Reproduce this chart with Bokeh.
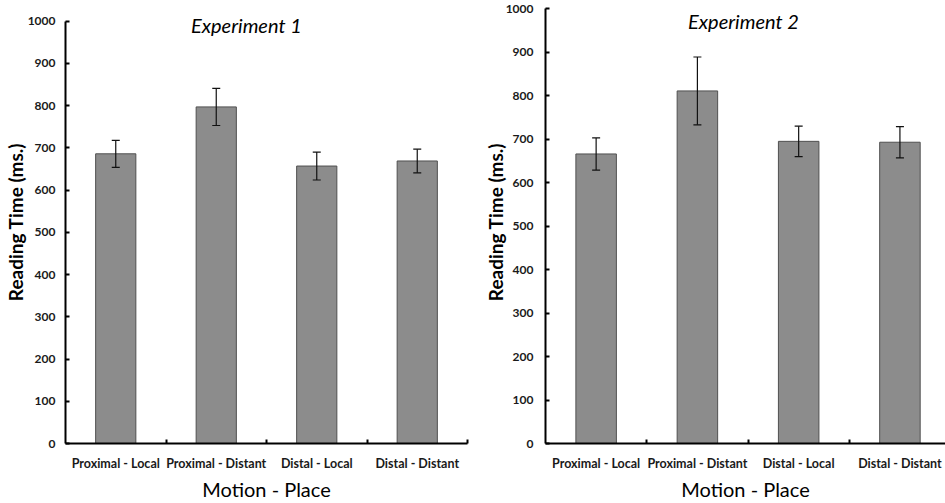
from bokeh.plotting import figure
from bokeh.models import (ColumnDataSource, Range1d, FixedTicker, Whisker,
                          TeeHead, Label)
from bokeh.layouts import row
from bokeh.embed import file_html
from bokeh.resources import INLINE

# Conditions (Motion - Place)
categories = ["Proximal - Local", "Proximal - Distant", "Distal - Local", "Distal - Distant"]

# Mean reading times (ms) and error-bar half widths
exp1_means = [686, 797, 657, 669]
exp1_err = [32, 44, 33, 28]
exp2_means = [666, 811, 695, 693]
exp2_err = [37, 78, 35, 36]

y_ticks = list(range(0, 1001, 100))

FONT = "Lato"
TXT = "#1a1a1a"


def panel(title, means, errs, width, border_left, y_end, x_end, title_x, title_y,
          ytick_standoff, ylabel_standoff):
    centers = [i + 0.5 for i in range(len(categories))]
    bounds = [i + 1 for i in range(len(categories))]
    src = ColumnDataSource(dict(
        x=centers,
        mean=means,
        upper=[m + e for m, e in zip(means, errs)],
        lower=[m - e for m, e in zip(means, errs)],
    ))

    p = figure(width=width, height=503, output_backend="svg", toolbar_location=None,
               x_range=Range1d(0, x_end), y_range=Range1d(0, y_end),
               min_border_left=border_left, min_border_right=0 if x_end < 4 else 3,
               min_border_top=0, min_border_bottom=60)
    p.outline_line_color = None
    p.grid.visible = False
    p.background_fill_color = "white"
    p.border_fill_color = "white"

    p.vbar(x="x", top="mean", width=0.4, bottom=0, source=src,
           fill_color="#8c8c8c", line_color="#505050", line_width=1)

    wh = Whisker(source=src, base="x", upper="upper", lower="lower",
                 dimension="height", line_color="#111111", line_width=1.2,
                 upper_head=TeeHead(size=8, line_color="#111111", line_width=1.2),
                 lower_head=TeeHead(size=8, line_color="#111111", line_width=1.2),
                 level="overlay")
    p.add_layout(wh)

    # y axis, drawn from 0 to 1000 only
    ya = p.yaxis[0]
    ya.bounds = (0, 1000)
    ya.ticker = FixedTicker(ticks=y_ticks)
    ya.axis_line_width = 2
    ya.axis_line_color = "black"
    ya.major_tick_in = 4
    ya.major_tick_out = 0
    ya.major_tick_line_width = 2
    ya.minor_tick_line_color = None
    ya.major_label_standoff = ytick_standoff
    ya.major_label_text_font = FONT
    ya.major_label_text_font_style = "bold"
    ya.major_label_text_font_size = "12px"
    ya.major_label_text_color = TXT
    ya.axis_label = "Reading Time (ms.)"
    ya.axis_label_text_font = FONT
    ya.axis_label_text_font_style = "bold"
    ya.axis_label_text_font_size = "19px"
    ya.axis_label_text_color = "black"
    ya.axis_label_standoff = ylabel_standoff

    # x axis: labels at bar centres, tick marks at category boundaries
    xa = p.xaxis[0]
    xa.ticker = FixedTicker(ticks=centers, minor_ticks=bounds)
    xa.major_label_overrides = {c: lab for c, lab in zip(centers, categories)}
    xa.axis_line_width = 2
    xa.axis_line_color = "black"
    xa.major_tick_line_color = None
    xa.major_tick_in = 0
    xa.major_tick_out = 0
    xa.minor_tick_in = 4
    xa.minor_tick_out = 0
    xa.minor_tick_line_width = 2
    xa.minor_tick_line_color = "black"
    xa.major_label_standoff = 12
    xa.major_label_text_font = FONT
    xa.major_label_text_font_style = "bold"
    xa.major_label_text_font_size = "12.5px"
    xa.major_label_text_color = TXT
    xa.axis_label = "Motion - Place"
    xa.axis_label_text_font = FONT
    xa.axis_label_text_font_style = "normal"
    xa.axis_label_text_font_size = "20px"
    xa.axis_label_text_color = "black"
    xa.axis_label_standoff = 3

    p.add_layout(Label(x=title_x, y=title_y, text=title, text_font=FONT,
                       text_font_style="italic", text_font_size="20px",
                       text_color="black", text_align="center",
                       text_baseline="middle"))
    return p


left = panel("Experiment 1", exp1_means, exp1_err, 470, 65, 1049, 4, 1.8, 990, 10, -2)
right = panel("Experiment 2", exp2_means, exp2_err, 475, 75, 1019, 3.95, 1.955, 971, 12, -4)

layout = row(left, right)
open("out.html", "w").write(file_html(layout, INLINE))
